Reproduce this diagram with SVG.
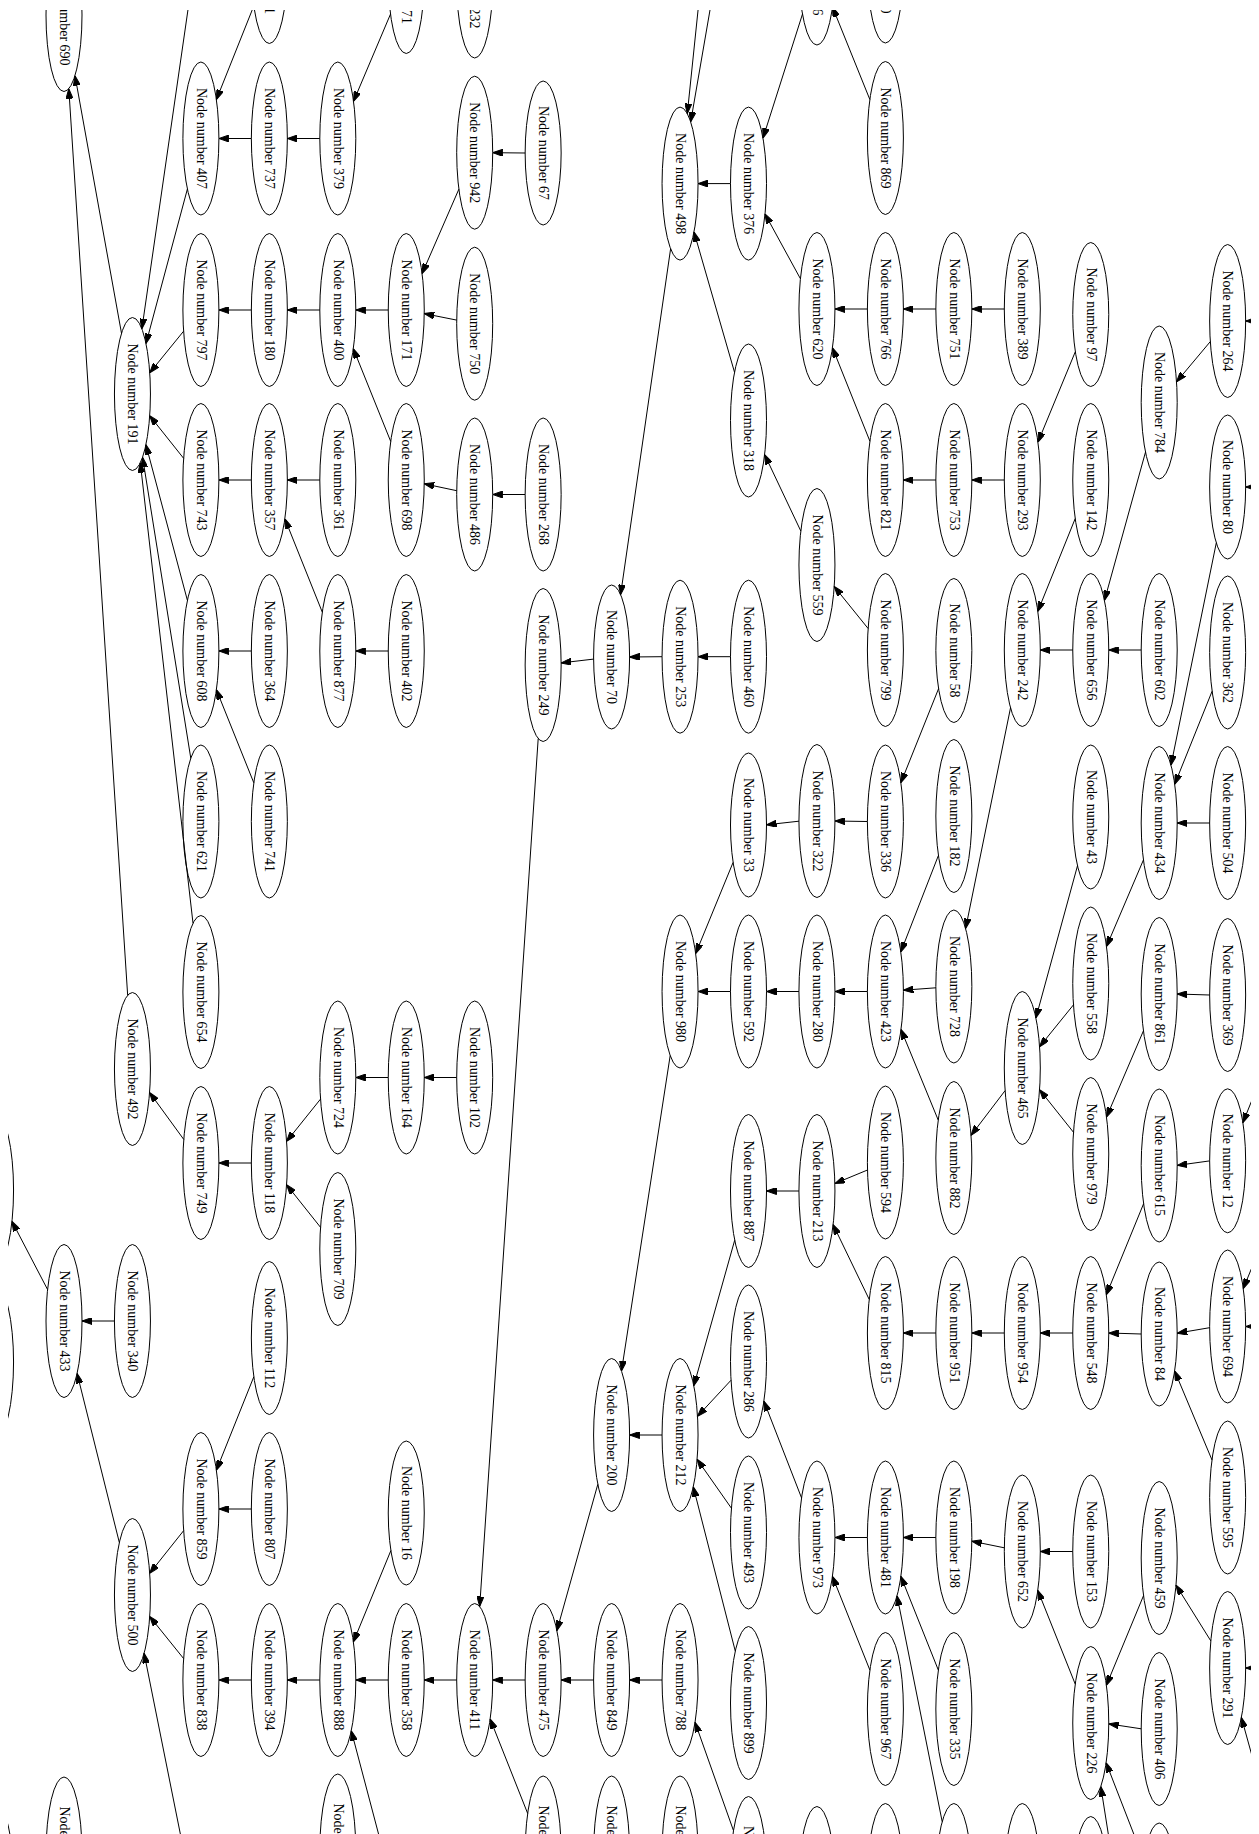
<svg xmlns="http://www.w3.org/2000/svg" width="1259" height="1834" viewBox="0 0 1259 1834">
<style>
.node ellipse{fill:none;stroke:#000;stroke-width:1}
.node text{font-family:"Liberation Serif","Times New Roman",serif;font-size:14px;fill:#000;text-anchor:middle}
.node text.e{text-anchor:end}
.node text.s{text-anchor:start}
#edges line{stroke:#000;stroke-width:1;fill:none;marker-end:url(#arr)}
</style>
<defs>
<clipPath id="frame"><rect x="8" y="10" width="1243" height="1824"/></clipPath>
<marker id="arr" viewBox="0 0 10 7" refX="10" refY="3.5" markerWidth="10" markerHeight="7" markerUnits="userSpaceOnUse" orient="auto"><path d="M0,0 L10,3.5 L0,7 z" fill="#000" stroke="#000" stroke-width="1"/></marker>
</defs>
<rect x="0" y="0" width="1259" height="1834" fill="#fff"/>
<g clip-path="url(#frame)">
<g id="edges">
<line x1="200.9" y1="-79.7" x2="141.9" y2="328.8"/>
<line x1="709.5" y1="-100" x2="687.3" y2="113.6"/>
<line x1="729" y1="-100" x2="690.7" y2="121.9"/>
<line x1="253.85" y1="5.85" x2="216.4" y2="99.65"/>
<line x1="251.35" y1="138.5" x2="218.9" y2="138.5"/>
<line x1="319.8" y1="138.5" x2="287.35" y2="138.5"/>
<line x1="390.5" y1="14.1" x2="353.5" y2="101.4"/>
<line x1="187.4" y1="189" x2="146" y2="343.5"/>
<line x1="121.5" y1="333.3" x2="75" y2="75.7"/>
<line x1="127.66" y1="995.3" x2="68.8" y2="88.7"/>
<line x1="183.6" y1="331.2" x2="149.75" y2="372.8"/>
<line x1="251.35" y1="310" x2="218.9" y2="310"/>
<line x1="319.8" y1="310" x2="287.35" y2="310"/>
<line x1="388.25" y1="310" x2="355.8" y2="310"/>
<line x1="390.7" y1="441.4" x2="353.3" y2="348.6"/>
<line x1="183.6" y1="458.3" x2="149.7" y2="415.7"/>
<line x1="251.35" y1="480" x2="218.9" y2="480"/>
<line x1="319.8" y1="480" x2="287.35" y2="480"/>
<line x1="458.9" y1="189.1" x2="422.1" y2="273.6"/>
<line x1="456.7" y1="320.1" x2="424.2" y2="313.6"/>
<line x1="525.15" y1="153" x2="492.7" y2="152.7"/>
<line x1="456.7" y1="490.7" x2="424.2" y2="483.8"/>
<line x1="525.15" y1="494.5" x2="492.7" y2="494.5"/>
<line x1="322.3" y1="612.2" x2="284.9" y2="518.8"/>
<line x1="251.35" y1="651" x2="218.9" y2="651"/>
<line x1="388.25" y1="651" x2="355.8" y2="651"/>
<line x1="253.8" y1="782.8" x2="216.4" y2="689.7"/>
<line x1="187.4" y1="600.35" x2="145.9" y2="444.65"/>
<line x1="190.8" y1="758.3" x2="142.6" y2="457.3"/>
<line x1="193" y1="923.2" x2="140.3" y2="462.8"/>
<line x1="730.5" y1="183.6" x2="698.05" y2="183.6"/>
<line x1="802.5" y1="14" x2="763" y2="138.1"/>
<line x1="800.4" y1="278.7" x2="765" y2="213.9"/>
<line x1="734.5" y1="372.2" x2="694" y2="231.9"/>
<line x1="670.6" y1="248.8" x2="620.6" y2="594.7"/>
<line x1="867.4" y1="309" x2="834.95" y2="309"/>
<line x1="869.9" y1="441.2" x2="832.5" y2="347.8"/>
<line x1="869.85" y1="99.5" x2="832.5" y2="7"/>
<line x1="935.85" y1="309" x2="903.4" y2="309"/>
<line x1="1004.3" y1="309" x2="971.85" y2="309"/>
<line x1="1075.3" y1="351.75" x2="1037.95" y2="442.2"/>
<line x1="1210.3" y1="341.6" x2="1176.5" y2="381.9"/>
<line x1="1278" y1="321" x2="1245.65" y2="321"/>
<line x1="800.8" y1="531" x2="764.6" y2="454.5"/>
<line x1="593.6" y1="659.1" x2="561.15" y2="662.9"/>
<line x1="662.05" y1="656.7" x2="629.6" y2="657"/>
<line x1="730.5" y1="656.7" x2="698.05" y2="656.7"/>
<line x1="798.95" y1="821.2" x2="766.5" y2="824.8"/>
<line x1="538.2" y1="738.6" x2="479.7" y2="1606.5"/>
<line x1="733.1" y1="862.4" x2="695.7" y2="953.5"/>
<line x1="867.4" y1="821.5" x2="834.95" y2="821"/>
<line x1="868.1" y1="628.5" x2="834.2" y2="586.5"/>
<line x1="935.85" y1="480" x2="903.4" y2="480"/>
<line x1="1004.3" y1="480" x2="971.85" y2="480"/>
<line x1="1075.2" y1="518.6" x2="1037.8" y2="611.4"/>
<line x1="1145.5" y1="452.1" x2="1104.5" y2="600.4"/>
<line x1="1141.2" y1="650" x2="1108.75" y2="650"/>
<line x1="1072.75" y1="650" x2="1040.3" y2="650"/>
<line x1="1216.3" y1="542.8" x2="1171" y2="765.2"/>
<line x1="1212.1" y1="691.2" x2="1174.7" y2="784.3"/>
<line x1="1209.65" y1="823" x2="1177.2" y2="823"/>
<line x1="1278" y1="487" x2="1245.65" y2="487"/>
<line x1="938.6" y1="688.6" x2="900.9" y2="782.7"/>
<line x1="1010.5" y1="707.9" x2="965.6" y2="928.6"/>
<line x1="938.4" y1="855.5" x2="900.8" y2="952"/>
<line x1="1077.5" y1="865.7" x2="1035.9" y2="1018"/>
<line x1="1143.4" y1="860" x2="1106.5" y2="946.5"/>
<line x1="935.85" y1="987.8" x2="903.4" y2="990.2"/>
<line x1="867.4" y1="991.5" x2="834.95" y2="991.5"/>
<line x1="938.2" y1="1120" x2="901" y2="1029.5"/>
<line x1="1005.1" y1="1090.6" x2="971.05" y2="1135.4"/>
<line x1="1073.5" y1="1004.8" x2="1039.6" y2="1046.7"/>
<line x1="1073.5" y1="1132.3" x2="1039.6" y2="1089.7"/>
<line x1="1143.4" y1="1030.9" x2="1106.5" y2="1117.1"/>
<line x1="1209.65" y1="995" x2="1177.2" y2="994"/>
<line x1="1209.65" y1="1160.9" x2="1177.2" y2="1165.4"/>
<line x1="1296.1" y1="990" x2="1242.9" y2="1122.7"/>
<line x1="1143.6" y1="1203.7" x2="1106.35" y2="1294.8"/>
<line x1="867.5" y1="1170" x2="834.9" y2="1183.5"/>
<line x1="869.2" y1="1299.4" x2="833.1" y2="1224.6"/>
<line x1="935.85" y1="1333" x2="903.4" y2="1333"/>
<line x1="1004.3" y1="1333" x2="971.85" y2="1333"/>
<line x1="1072.75" y1="1333" x2="1040.3" y2="1333"/>
<line x1="1141.2" y1="1334" x2="1108.75" y2="1333"/>
<line x1="1209.65" y1="1327.7" x2="1177.2" y2="1333.2"/>
<line x1="1296.1" y1="1160" x2="1243.3" y2="1288.5"/>
<line x1="1278" y1="1326.5" x2="1245.65" y2="1326.5"/>
<line x1="1212" y1="1460" x2="1174.65" y2="1370.9"/>
<line x1="730.5" y1="991.5" x2="698.05" y2="991.5"/>
<line x1="798.95" y1="991.5" x2="766.5" y2="991.5"/>
<line x1="670.2" y1="1055.5" x2="621.5" y2="1371"/>
<line x1="734.7" y1="1240.2" x2="693.8" y2="1385.8"/>
<line x1="798.95" y1="1191" x2="766.5" y2="1191"/>
<line x1="456.7" y1="1077.5" x2="424.25" y2="1077.5"/>
<line x1="388.25" y1="1077.5" x2="355.8" y2="1077.5"/>
<line x1="320.5" y1="1099.1" x2="286.6" y2="1141.4"/>
<line x1="320.5" y1="1227.3" x2="286.6" y2="1184.7"/>
<line x1="251.35" y1="1163" x2="218.9" y2="1163"/>
<line x1="183.8" y1="1139.5" x2="149.6" y2="1092.5"/>
<line x1="114.45" y1="1321" x2="82" y2="1321"/>
<line x1="47.6" y1="1289.6" x2="12" y2="1221.4"/>
<line x1="119.35" y1="1542.55" x2="77.1" y2="1373.45"/>
<line x1="253.8" y1="1376.8" x2="216.4" y2="1470.2"/>
<line x1="251.35" y1="1509" x2="218.9" y2="1509"/>
<line x1="183.6" y1="1530.7" x2="149.7" y2="1573.3"/>
<line x1="183.6" y1="1658.55" x2="149.7" y2="1616.45"/>
<line x1="251.35" y1="1680" x2="218.9" y2="1680"/>
<line x1="319.8" y1="1680" x2="287.35" y2="1680"/>
<line x1="388.25" y1="1680" x2="355.8" y2="1680"/>
<line x1="390.9" y1="1550.5" x2="353.4" y2="1641.9"/>
<line x1="200.9" y1="1936.5" x2="144.1" y2="1653.2"/>
<line x1="406.25" y1="1938.8" x2="351.3" y2="1730.8"/>
<line x1="662.05" y1="1435" x2="629.6" y2="1435"/>
<line x1="597.8" y1="1484.3" x2="556.9" y2="1630.7"/>
<line x1="731.05" y1="1380.2" x2="697.5" y2="1416.3"/>
<line x1="731.4" y1="1508.2" x2="697.1" y2="1459.3"/>
<line x1="735.3" y1="1651.2" x2="693.3" y2="1486.8"/>
<line x1="801.55" y1="1497.9" x2="763.9" y2="1401.1"/>
<line x1="867.4" y1="1537.5" x2="834.95" y2="1537.5"/>
<line x1="869.9" y1="1670.15" x2="832.45" y2="1576.35"/>
<line x1="662.05" y1="1680" x2="629.6" y2="1680"/>
<line x1="593.6" y1="1680" x2="561.15" y2="1680"/>
<line x1="525.15" y1="1680" x2="492.7" y2="1680"/>
<line x1="456.7" y1="1680" x2="424.25" y2="1680"/>
<line x1="527.7" y1="1813.5" x2="490.2" y2="1719"/>
<line x1="733.5" y1="1830.7" x2="695.05" y2="1722.3"/>
<line x1="935.85" y1="1537.5" x2="903.4" y2="1537.5"/>
<line x1="1004.3" y1="1547.8" x2="971.8" y2="1541.2"/>
<line x1="1072.75" y1="1551.5" x2="1040.3" y2="1551.5"/>
<line x1="1075.25" y1="1684.15" x2="1037.8" y2="1590.35"/>
<line x1="1143.5" y1="1595.7" x2="1106.4" y2="1685.3"/>
<line x1="1141.2" y1="1728.8" x2="1108.75" y2="1723.9"/>
<line x1="1210.8" y1="1640.9" x2="1176" y2="1585.1"/>
<line x1="938.35" y1="1670.15" x2="900.9" y2="1576.35"/>
<line x1="942.2" y1="1821.7" x2="897.05" y2="1595.8"/>
<line x1="1159.2" y1="2156" x2="1100.8" y2="1786.5"/>
<line x1="1143.8" y1="1859.8" x2="1106.1" y2="1762.7"/>
<line x1="1278" y1="1668" x2="1245.65" y2="1668"/>
<line x1="1296.1" y1="1915" x2="1241.4" y2="1717.5"/>
</g>
<g id="n690" class="node" transform="translate(64,15)"><ellipse rx="18" ry="76.5"/><text transform="rotate(90)" y="4.2">Node number 690</text></g>
<g id="n433" class="node" transform="translate(64,1321)"><ellipse rx="18" ry="76.5"/><text transform="rotate(90)" y="4.2">Node number 433</text></g>
<g id="n191" class="node" transform="translate(132.45,394)"><ellipse rx="18" ry="76.5"/><text transform="rotate(90)" y="4.2">Node number 191</text></g>
<g id="n492" class="node" transform="translate(132.45,1069)"><ellipse rx="18" ry="76.5"/><text transform="rotate(90)" y="4.2">Node number 492</text></g>
<g id="n340" class="node" transform="translate(132.45,1321)"><ellipse rx="18" ry="76.5"/><text transform="rotate(90)" y="4.2">Node number 340</text></g>
<g id="n500" class="node" transform="translate(132.45,1595)"><ellipse rx="18" ry="76.5"/><text transform="rotate(90)" y="4.2">Node number 500</text></g>
<g id="n407" class="node" transform="translate(200.9,138.5)"><ellipse rx="18" ry="76.5"/><text transform="rotate(90)" y="4.2">Node number 407</text></g>
<g id="n797" class="node" transform="translate(200.9,310)"><ellipse rx="18" ry="76.5"/><text transform="rotate(90)" y="4.2">Node number 797</text></g>
<g id="n743" class="node" transform="translate(200.9,480)"><ellipse rx="18" ry="76.5"/><text transform="rotate(90)" y="4.2">Node number 743</text></g>
<g id="n608" class="node" transform="translate(200.9,651)"><ellipse rx="18" ry="76.5"/><text transform="rotate(90)" y="4.2">Node number 608</text></g>
<g id="n621" class="node" transform="translate(200.9,821.5)"><ellipse rx="18" ry="76.5"/><text transform="rotate(90)" y="4.2">Node number 621</text></g>
<g id="n654" class="node" transform="translate(200.9,992)"><ellipse rx="18" ry="76.5"/><text transform="rotate(90)" y="4.2">Node number 654</text></g>
<g id="n749" class="node" transform="translate(200.9,1163)"><ellipse rx="18" ry="76.5"/><text transform="rotate(90)" y="4.2">Node number 749</text></g>
<g id="n859" class="node" transform="translate(200.9,1509)"><ellipse rx="18" ry="76.5"/><text transform="rotate(90)" y="4.2">Node number 859</text></g>
<g id="n838" class="node" transform="translate(200.9,1680)"><ellipse rx="18" ry="76.5"/><text transform="rotate(90)" y="4.2">Node number 838</text></g>
<g id="n737" class="node" transform="translate(269.35,138.5)"><ellipse rx="18" ry="76.5"/><text transform="rotate(90)" y="4.2">Node number 737</text></g>
<g id="n180" class="node" transform="translate(269.35,310)"><ellipse rx="18" ry="76.5"/><text transform="rotate(90)" y="4.2">Node number 180</text></g>
<g id="n357" class="node" transform="translate(269.35,480)"><ellipse rx="18" ry="76.5"/><text transform="rotate(90)" y="4.2">Node number 357</text></g>
<g id="n364" class="node" transform="translate(269.35,651)"><ellipse rx="18" ry="76.5"/><text transform="rotate(90)" y="4.2">Node number 364</text></g>
<g id="n741" class="node" transform="translate(269.35,821.5)"><ellipse rx="18" ry="76.5"/><text transform="rotate(90)" y="4.2">Node number 741</text></g>
<g id="n118" class="node" transform="translate(269.35,1163)"><ellipse rx="18" ry="76.5"/><text transform="rotate(90)" y="4.2">Node number 118</text></g>
<g id="n112" class="node" transform="translate(269.35,1338)"><ellipse rx="18" ry="76.5"/><text transform="rotate(90)" y="4.2">Node number 112</text></g>
<g id="n807" class="node" transform="translate(269.35,1509)"><ellipse rx="18" ry="76.5"/><text transform="rotate(90)" y="4.2">Node number 807</text></g>
<g id="n394" class="node" transform="translate(269.35,1680)"><ellipse rx="18" ry="76.5"/><text transform="rotate(90)" y="4.2">Node number 394</text></g>
<g id="n379" class="node" transform="translate(337.8,138.5)"><ellipse rx="18" ry="76.5"/><text transform="rotate(90)" y="4.2">Node number 379</text></g>
<g id="n400" class="node" transform="translate(337.8,310)"><ellipse rx="18" ry="76.5"/><text transform="rotate(90)" y="4.2">Node number 400</text></g>
<g id="n361" class="node" transform="translate(337.8,480)"><ellipse rx="18" ry="76.5"/><text transform="rotate(90)" y="4.2">Node number 361</text></g>
<g id="n877" class="node" transform="translate(337.8,651)"><ellipse rx="18" ry="76.5"/><text transform="rotate(90)" y="4.2">Node number 877</text></g>
<g id="n724" class="node" transform="translate(337.8,1077.5)"><ellipse rx="18" ry="76.5"/><text transform="rotate(90)" y="4.2">Node number 724</text></g>
<g id="n709" class="node" transform="translate(337.8,1249)"><ellipse rx="18" ry="76.5"/><text transform="rotate(90)" y="4.2">Node number 709</text></g>
<g id="n888" class="node" transform="translate(337.8,1680)"><ellipse rx="18" ry="76.5"/><text transform="rotate(90)" y="4.2">Node number 888</text></g>
<g id="n171" class="node" transform="translate(406.25,310)"><ellipse rx="18" ry="76.5"/><text transform="rotate(90)" y="4.2">Node number 171</text></g>
<g id="n698" class="node" transform="translate(406.25,480)"><ellipse rx="18" ry="76.5"/><text transform="rotate(90)" y="4.2">Node number 698</text></g>
<g id="n402" class="node" transform="translate(406.25,651)"><ellipse rx="18" ry="76.5"/><text transform="rotate(90)" y="4.2">Node number 402</text></g>
<g id="n164" class="node" transform="translate(406.25,1077.5)"><ellipse rx="18" ry="76.5"/><text transform="rotate(90)" y="4.2">Node number 164</text></g>
<g id="n16" class="node" transform="translate(406.25,1513)"><ellipse rx="18" ry="72"/><text transform="rotate(90)" y="4.2">Node number 16</text></g>
<g id="n358" class="node" transform="translate(406.25,1680)"><ellipse rx="18" ry="76.5"/><text transform="rotate(90)" y="4.2">Node number 358</text></g>
<g id="n942" class="node" transform="translate(474.7,152.7)"><ellipse rx="18" ry="76.5"/><text transform="rotate(90)" y="4.2">Node number 942</text></g>
<g id="n750" class="node" transform="translate(474.7,323.7)"><ellipse rx="18" ry="76.5"/><text transform="rotate(90)" y="4.2">Node number 750</text></g>
<g id="n486" class="node" transform="translate(474.7,494.5)"><ellipse rx="18" ry="76.5"/><text transform="rotate(90)" y="4.2">Node number 486</text></g>
<g id="n102" class="node" transform="translate(474.7,1077.5)"><ellipse rx="18" ry="76.5"/><text transform="rotate(90)" y="4.2">Node number 102</text></g>
<g id="n411" class="node" transform="translate(474.7,1680)"><ellipse rx="18" ry="76.5"/><text transform="rotate(90)" y="4.2">Node number 411</text></g>
<g id="n67" class="node" transform="translate(543.15,153)"><ellipse rx="18" ry="72"/><text transform="rotate(90)" y="4.2">Node number 67</text></g>
<g id="n268" class="node" transform="translate(543.15,494.5)"><ellipse rx="18" ry="76.5"/><text transform="rotate(90)" y="4.2">Node number 268</text></g>
<g id="n249" class="node" transform="translate(543.15,665)"><ellipse rx="18" ry="76.5"/><text transform="rotate(90)" y="4.2">Node number 249</text></g>
<g id="n475" class="node" transform="translate(543.15,1680)"><ellipse rx="18" ry="76.5"/><text transform="rotate(90)" y="4.2">Node number 475</text></g>
<g id="n70" class="node" transform="translate(611.6,657)"><ellipse rx="18" ry="72"/><text transform="rotate(90)" y="4.2">Node number 70</text></g>
<g id="n200" class="node" transform="translate(611.6,1435)"><ellipse rx="18" ry="76.5"/><text transform="rotate(90)" y="4.2">Node number 200</text></g>
<g id="n849" class="node" transform="translate(611.6,1680)"><ellipse rx="18" ry="76.5"/><text transform="rotate(90)" y="4.2">Node number 849</text></g>
<g id="n498" class="node" transform="translate(680.05,183.6)"><ellipse rx="18" ry="76.5"/><text transform="rotate(90)" y="4.2">Node number 498</text></g>
<g id="n253" class="node" transform="translate(680.05,656.7)"><ellipse rx="18" ry="76.5"/><text transform="rotate(90)" y="4.2">Node number 253</text></g>
<g id="n980" class="node" transform="translate(680.05,991.5)"><ellipse rx="18" ry="76.5"/><text transform="rotate(90)" y="4.2">Node number 980</text></g>
<g id="n212" class="node" transform="translate(680.05,1435)"><ellipse rx="18" ry="76.5"/><text transform="rotate(90)" y="4.2">Node number 212</text></g>
<g id="n788" class="node" transform="translate(680.05,1680)"><ellipse rx="18" ry="76.5"/><text transform="rotate(90)" y="4.2">Node number 788</text></g>
<g id="n376" class="node" transform="translate(748.5,183.6)"><ellipse rx="18" ry="76.5"/><text transform="rotate(90)" y="4.2">Node number 376</text></g>
<g id="n318" class="node" transform="translate(748.5,420.5)"><ellipse rx="18" ry="76.5"/><text transform="rotate(90)" y="4.2">Node number 318</text></g>
<g id="n460" class="node" transform="translate(748.5,656.7)"><ellipse rx="18" ry="76.5"/><text transform="rotate(90)" y="4.2">Node number 460</text></g>
<g id="n33" class="node" transform="translate(748.5,825)"><ellipse rx="18" ry="72"/><text transform="rotate(90)" y="4.2">Node number 33</text></g>
<g id="n592" class="node" transform="translate(748.5,991.5)"><ellipse rx="18" ry="76.5"/><text transform="rotate(90)" y="4.2">Node number 592</text></g>
<g id="n887" class="node" transform="translate(748.5,1191)"><ellipse rx="18" ry="76.5"/><text transform="rotate(90)" y="4.2">Node number 887</text></g>
<g id="n286" class="node" transform="translate(748.5,1361.5)"><ellipse rx="18" ry="76.5"/><text transform="rotate(90)" y="4.2">Node number 286</text></g>
<g id="n493" class="node" transform="translate(748.5,1532.5)"><ellipse rx="18" ry="76.5"/><text transform="rotate(90)" y="4.2">Node number 493</text></g>
<g id="n899" class="node" transform="translate(748.5,1703)"><ellipse rx="18" ry="76.5"/><text transform="rotate(90)" y="4.2">Node number 899</text></g>
<g id="n620" class="node" transform="translate(816.95,309)"><ellipse rx="18" ry="76.5"/><text transform="rotate(90)" y="4.2">Node number 620</text></g>
<g id="n559" class="node" transform="translate(816.95,565)"><ellipse rx="18" ry="76.5"/><text transform="rotate(90)" y="4.2">Node number 559</text></g>
<g id="n322" class="node" transform="translate(816.95,821)"><ellipse rx="18" ry="76.5"/><text transform="rotate(90)" y="4.2">Node number 322</text></g>
<g id="n280" class="node" transform="translate(816.95,991.5)"><ellipse rx="18" ry="76.5"/><text transform="rotate(90)" y="4.2">Node number 280</text></g>
<g id="n213" class="node" transform="translate(816.95,1191)"><ellipse rx="18" ry="76.5"/><text transform="rotate(90)" y="4.2">Node number 213</text></g>
<g id="n973" class="node" transform="translate(816.95,1537.5)"><ellipse rx="18" ry="76.5"/><text transform="rotate(90)" y="4.2">Node number 973</text></g>
<g id="n869" class="node" transform="translate(885.4,138)"><ellipse rx="18" ry="76.5"/><text transform="rotate(90)" y="4.2">Node number 869</text></g>
<g id="n766" class="node" transform="translate(885.4,309)"><ellipse rx="18" ry="76.5"/><text transform="rotate(90)" y="4.2">Node number 766</text></g>
<g id="n821" class="node" transform="translate(885.4,480)"><ellipse rx="18" ry="76.5"/><text transform="rotate(90)" y="4.2">Node number 821</text></g>
<g id="n799" class="node" transform="translate(885.4,650)"><ellipse rx="18" ry="76.5"/><text transform="rotate(90)" y="4.2">Node number 799</text></g>
<g id="n336" class="node" transform="translate(885.4,821.5)"><ellipse rx="18" ry="76.5"/><text transform="rotate(90)" y="4.2">Node number 336</text></g>
<g id="n423" class="node" transform="translate(885.4,991.5)"><ellipse rx="18" ry="76.5"/><text transform="rotate(90)" y="4.2">Node number 423</text></g>
<g id="n594" class="node" transform="translate(885.4,1162.5)"><ellipse rx="18" ry="76.5"/><text transform="rotate(90)" y="4.2">Node number 594</text></g>
<g id="n815" class="node" transform="translate(885.4,1333)"><ellipse rx="18" ry="76.5"/><text transform="rotate(90)" y="4.2">Node number 815</text></g>
<g id="n481" class="node" transform="translate(885.4,1537.5)"><ellipse rx="18" ry="76.5"/><text transform="rotate(90)" y="4.2">Node number 481</text></g>
<g id="n967" class="node" transform="translate(885.4,1709)"><ellipse rx="18" ry="76.5"/><text transform="rotate(90)" y="4.2">Node number 967</text></g>
<g id="n751" class="node" transform="translate(953.85,309)"><ellipse rx="18" ry="76.5"/><text transform="rotate(90)" y="4.2">Node number 751</text></g>
<g id="n753" class="node" transform="translate(953.85,480)"><ellipse rx="18" ry="76.5"/><text transform="rotate(90)" y="4.2">Node number 753</text></g>
<g id="n58" class="node" transform="translate(953.85,650.5)"><ellipse rx="18" ry="72"/><text transform="rotate(90)" y="4.2">Node number 58</text></g>
<g id="n182" class="node" transform="translate(953.85,816)"><ellipse rx="18" ry="76.5"/><text transform="rotate(90)" y="4.2">Node number 182</text></g>
<g id="n728" class="node" transform="translate(953.85,986.5)"><ellipse rx="18" ry="76.5"/><text transform="rotate(90)" y="4.2">Node number 728</text></g>
<g id="n882" class="node" transform="translate(953.85,1158)"><ellipse rx="18" ry="76.5"/><text transform="rotate(90)" y="4.2">Node number 882</text></g>
<g id="n951" class="node" transform="translate(953.85,1333)"><ellipse rx="18" ry="76.5"/><text transform="rotate(90)" y="4.2">Node number 951</text></g>
<g id="n198" class="node" transform="translate(953.85,1537.5)"><ellipse rx="18" ry="76.5"/><text transform="rotate(90)" y="4.2">Node number 198</text></g>
<g id="n335" class="node" transform="translate(953.85,1709)"><ellipse rx="18" ry="76.5"/><text transform="rotate(90)" y="4.2">Node number 335</text></g>
<g id="n389" class="node" transform="translate(1022.3,309)"><ellipse rx="18" ry="76.5"/><text transform="rotate(90)" y="4.2">Node number 389</text></g>
<g id="n293" class="node" transform="translate(1022.3,480)"><ellipse rx="18" ry="76.5"/><text transform="rotate(90)" y="4.2">Node number 293</text></g>
<g id="n242" class="node" transform="translate(1022.3,650)"><ellipse rx="18" ry="76.5"/><text transform="rotate(90)" y="4.2">Node number 242</text></g>
<g id="n465" class="node" transform="translate(1022.3,1068)"><ellipse rx="18" ry="76.5"/><text transform="rotate(90)" y="4.2">Node number 465</text></g>
<g id="n954" class="node" transform="translate(1022.3,1333)"><ellipse rx="18" ry="76.5"/><text transform="rotate(90)" y="4.2">Node number 954</text></g>
<g id="n652" class="node" transform="translate(1022.3,1551.5)"><ellipse rx="18" ry="76.5"/><text transform="rotate(90)" y="4.2">Node number 652</text></g>
<g id="n97" class="node" transform="translate(1090.75,314.5)"><ellipse rx="18" ry="72"/><text transform="rotate(90)" y="4.2">Node number 97</text></g>
<g id="n142" class="node" transform="translate(1090.75,480)"><ellipse rx="18" ry="76.5"/><text transform="rotate(90)" y="4.2">Node number 142</text></g>
<g id="n656" class="node" transform="translate(1090.75,650)"><ellipse rx="18" ry="76.5"/><text transform="rotate(90)" y="4.2">Node number 656</text></g>
<g id="n43" class="node" transform="translate(1090.75,817)"><ellipse rx="18" ry="72"/><text transform="rotate(90)" y="4.2">Node number 43</text></g>
<g id="n558" class="node" transform="translate(1090.75,983.5)"><ellipse rx="18" ry="76.5"/><text transform="rotate(90)" y="4.2">Node number 558</text></g>
<g id="n979" class="node" transform="translate(1090.75,1154)"><ellipse rx="18" ry="76.5"/><text transform="rotate(90)" y="4.2">Node number 979</text></g>
<g id="n548" class="node" transform="translate(1090.75,1333)"><ellipse rx="18" ry="76.5"/><text transform="rotate(90)" y="4.2">Node number 548</text></g>
<g id="n153" class="node" transform="translate(1090.75,1551.5)"><ellipse rx="18" ry="76.5"/><text transform="rotate(90)" y="4.2">Node number 153</text></g>
<g id="n226" class="node" transform="translate(1090.75,1723)"><ellipse rx="18" ry="76.5"/><text transform="rotate(90)" y="4.2">Node number 226</text></g>
<g id="n784" class="node" transform="translate(1159.2,402.5)"><ellipse rx="18" ry="76.5"/><text transform="rotate(90)" y="4.2">Node number 784</text></g>
<g id="n602" class="node" transform="translate(1159.2,650)"><ellipse rx="18" ry="76.5"/><text transform="rotate(90)" y="4.2">Node number 602</text></g>
<g id="n434" class="node" transform="translate(1159.2,823)"><ellipse rx="18" ry="76.5"/><text transform="rotate(90)" y="4.2">Node number 434</text></g>
<g id="n861" class="node" transform="translate(1159.2,994)"><ellipse rx="18" ry="76.5"/><text transform="rotate(90)" y="4.2">Node number 861</text></g>
<g id="n615" class="node" transform="translate(1159.2,1165.5)"><ellipse rx="18" ry="76.5"/><text transform="rotate(90)" y="4.2">Node number 615</text></g>
<g id="n84" class="node" transform="translate(1159.2,1334)"><ellipse rx="18" ry="72"/><text transform="rotate(90)" y="4.2">Node number 84</text></g>
<g id="n459" class="node" transform="translate(1159.2,1558)"><ellipse rx="18" ry="76.5"/><text transform="rotate(90)" y="4.2">Node number 459</text></g>
<g id="n406" class="node" transform="translate(1159.2,1729)"><ellipse rx="18" ry="76.5"/><text transform="rotate(90)" y="4.2">Node number 406</text></g>
<g id="n264" class="node" transform="translate(1227.65,321)"><ellipse rx="18" ry="76.5"/><text transform="rotate(90)" y="4.2">Node number 264</text></g>
<g id="n80" class="node" transform="translate(1227.65,487)"><ellipse rx="18" ry="72"/><text transform="rotate(90)" y="4.2">Node number 80</text></g>
<g id="n362" class="node" transform="translate(1227.65,652.5)"><ellipse rx="18" ry="76.5"/><text transform="rotate(90)" y="4.2">Node number 362</text></g>
<g id="n504" class="node" transform="translate(1227.65,823)"><ellipse rx="18" ry="76.5"/><text transform="rotate(90)" y="4.2">Node number 504</text></g>
<g id="n369" class="node" transform="translate(1227.65,995)"><ellipse rx="18" ry="76.5"/><text transform="rotate(90)" y="4.2">Node number 369</text></g>
<g id="n12" class="node" transform="translate(1227.65,1160.8)"><ellipse rx="18" ry="72"/><text transform="rotate(90)" y="4.2">Node number 12</text></g>
<g id="n694" class="node" transform="translate(1227.65,1326.5)"><ellipse rx="18" ry="76.5"/><text transform="rotate(90)" y="4.2">Node number 694</text></g>
<g id="n595" class="node" transform="translate(1227.65,1497.5)"><ellipse rx="18" ry="76.5"/><text transform="rotate(90)" y="4.2">Node number 595</text></g>
<g id="n291" class="node" transform="translate(1227.65,1668)"><ellipse rx="18" ry="76.5"/><text transform="rotate(90)" y="4.2">Node number 291</text></g>
<g id="top3" class="node" transform="translate(269.35,-33)"><ellipse rx="18" ry="76.5"/><text class="e" transform="rotate(90)" x="47" y="4.2">1</text></g>
<g id="top5" class="node" transform="translate(406.25,-23)"><ellipse rx="18" ry="76.5"/><text class="e" transform="rotate(90)" x="47" y="4.2">71</text></g>
<g id="top6" class="node" transform="translate(474.7,-18.5)"><ellipse rx="18" ry="76.5"/><text class="e" transform="rotate(90)" x="47" y="4.2">232</text></g>
<g id="top11" class="node" transform="translate(816.95,-31.5)"><ellipse rx="18" ry="76.5"/><text class="e" transform="rotate(90)" x="47" y="4.2">6</text></g>
<g id="top12" class="node" transform="translate(885.4,-33.5)"><ellipse rx="18" ry="76.5"/><text class="e" transform="rotate(90)" x="47" y="4.2">0</text></g>
<g id="left1" class="node" transform="translate(-4.45,1190)"><ellipse rx="18" ry="76.5"/></g>
<g id="left2" class="node" transform="translate(-4.45,1362)"><ellipse rx="18" ry="76.5"/></g>
<g id="left3" class="node" transform="translate(-4.45,1880)"><ellipse rx="18" ry="76.5"/></g>
<g id="bot0" class="node" transform="translate(64,1853.5)"><ellipse rx="18" ry="76.5"/><text class="s" transform="rotate(90)" x="-47" y="4.2">Node</text></g>
<g id="bot4" class="node" transform="translate(337.8,1850.5)"><ellipse rx="18" ry="76.5"/><text class="s" transform="rotate(90)" x="-47" y="4.2">Node</text></g>
<g id="bot7" class="node" transform="translate(543.15,1852.5)"><ellipse rx="18" ry="76.5"/><text class="s" transform="rotate(90)" x="-47" y="4.2">Node</text></g>
<g id="bot8" class="node" transform="translate(611.6,1852.5)"><ellipse rx="18" ry="76.5"/><text class="s" transform="rotate(90)" x="-47" y="4.2">Node</text></g>
<g id="bot9" class="node" transform="translate(680.05,1852.5)"><ellipse rx="18" ry="76.5"/><text class="s" transform="rotate(90)" x="-47" y="4.2">Node</text></g>
<g id="bot10" class="node" transform="translate(748.5,1873)"><ellipse rx="18" ry="76.5"/><text class="s" transform="rotate(90)" x="-47" y="4.2">N</text></g>
<g id="bot11" class="node" transform="translate(816.95,1883)"><ellipse rx="18" ry="76.5"/></g>
<g id="bot12" class="node" transform="translate(885.4,1880)"><ellipse rx="18" ry="76.5"/></g>
<g id="bot13" class="node" transform="translate(953.85,1880)"><ellipse rx="18" ry="76.5"/></g>
<g id="bot14" class="node" transform="translate(1022.3,1880)"><ellipse rx="18" ry="76.5"/></g>
<g id="bot15" class="node" transform="translate(1090.75,1893)"><ellipse rx="18" ry="76.5"/></g>
<g id="bot16" class="node" transform="translate(1159.2,1899.5)"><ellipse rx="18" ry="76.5"/></g>
</g>
</svg>
